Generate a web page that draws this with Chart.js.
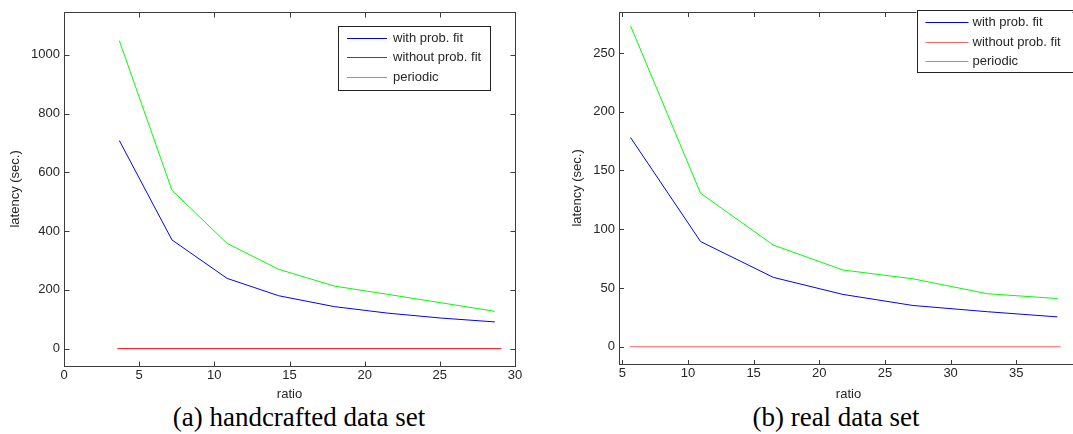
<!DOCTYPE html>
<html>
<head>
<meta charset="utf-8">
<script src="https://cdn.jsdelivr.net/npm/chart.js@4.4.0/dist/chart.umd.min.js"></script>
<style>
  html, body { margin:0; padding:0; background:#fff; width:1073px; height:434px; overflow:hidden; }
  canvas { position:absolute; top:0; }
  #chartA { left:0; }
  #chartB { left:566px; }
  .caption { position:absolute; top:404px; width:300px; text-align:center;
             font-family:"Liberation Serif","Times New Roman",serif; font-size:27px; line-height:27px; color:#000; }
</style>
</head>
<body>
<canvas id="chartA" width="530" height="402"></canvas>
<canvas id="chartB" width="519" height="402"></canvas>
<div class="caption" style="left:149px">(a) handcrafted data set</div>
<div class="caption" style="left:686px">(b) real data set</div>
<script>
/* ========= DATA ========= */
const seriesLabels = ["with prob. fit", "without prob. fit", "periodic"];

// (a) handcrafted data set
const ratioA      = [3.68, 7.18, 10.85, 14.28, 17.98, 21.5, 25.1, 28.66];
const withFitA    = [708, 370, 239, 180, 143, 121, 104, 91];
const periodicA   = [1048, 539, 358, 270, 213, 185, 156, 127];
const ratioNoFitA = [3.55, 29.1];
const withoutFitA = [0, 0];
const xTicksA = [0, 5, 10, 15, 20, 25, 30];
const yTicksA = [0, 200, 400, 600, 800, 1000];

// (b) real data set
const ratioB      = [5.63, 10.96, 16.5, 21.8, 27.13, 32.8, 38.13];
const withFitB    = [178, 89.5, 59, 44.5, 35.1, 29.8, 25.4];
const periodicB   = [273, 130.6, 86.5, 65.3, 57.8, 45.1, 41];
const ratioNoFitB = [5.56, 38.38];
const withoutFitB = [0, 0];
const xTicksB = [5, 10, 15, 20, 25, 30, 35];
const yTicksB = [0, 50, 100, 150, 200, 250];

/* ========= HELPERS ========= */
const FONT = "'Liberation Sans', Arial, sans-serif";
const TXT  = "#262626";
const pts = (xs, ys) => xs.map((x, i) => ({x, y: ys[i]}));

// matlab style box, inward ticks on all 4 sides, legend inside the axes
const matlabBox = {
  id: "matlabBox",
  afterDraw(chart, args, o) {
    const {ctx, chartArea: a, scales: {x, y}} = chart;
    const L = Math.round(a.left) + .5, R = Math.round(a.right) + .5;
    const T = Math.round(a.top) + .5,  B = Math.round(a.bottom) + .5;
    ctx.save();
    ctx.strokeStyle = "#3c3c3c";
    ctx.lineWidth = 1;
    ctx.strokeRect(L, T, R - L, B - T);
    ctx.beginPath();
    x.ticks.forEach(t => {
      const px = Math.round(x.getPixelForValue(t.value)) + .5;
      ctx.moveTo(px, B); ctx.lineTo(px, B - o.tick);
      ctx.moveTo(px, T); ctx.lineTo(px, T + o.tick);
    });
    y.ticks.forEach(t => {
      const py = Math.round(y.getPixelForValue(t.value)) + .5;
      ctx.moveTo(L, py); ctx.lineTo(L + o.tick, py);
      ctx.moveTo(R, py); ctx.lineTo(R - o.tick, py);
    });
    ctx.stroke();

    // legend
    const g = o.legend;
    ctx.fillStyle = "#fff";
    ctx.fillRect(g.x, g.y, g.w, g.h);
    ctx.strokeStyle = "#222";
    ctx.strokeRect(Math.round(g.x) + .5, Math.round(g.y) + .5, Math.round(g.w), Math.round(g.h));
    ctx.font = "13px " + FONT;
    ctx.textBaseline = "middle";
    ctx.textAlign = "left";
    chart.data.datasets.forEach((ds, i) => {
      const ry = Math.round(g.y + g.rows[i]) + .5;
      ctx.strokeStyle = ds.borderColor;
      ctx.beginPath();
      ctx.moveTo(g.x + g.line[0], ry);
      ctx.lineTo(g.x + g.line[1], ry);
      ctx.stroke();
      ctx.fillStyle = TXT;
      ctx.fillText(ds.label, g.x + g.textX, ry);
    });
    ctx.restore();
  }
};

function makeChart(id, cfg) {
  const ds = (label, data, color) => ({
    label, data, borderColor: color, borderWidth: 1,
    pointRadius: 0, tension: 0, fill: false
  });
  return new Chart(document.getElementById(id).getContext("2d"), {
    type: "line",
    data: {
      datasets: [
        ds(seriesLabels[0], pts(cfg.ratio, cfg.withFit), "#0000ff"),
        ds(seriesLabels[1], pts(cfg.ratioNoFit, cfg.withoutFit), cfg.red),
        ds(seriesLabels[2], pts(cfg.ratio, cfg.periodic), "#00ff00")
      ]
    },
    options: {
      responsive: false,
      animation: false,
      layout: {padding: cfg.pad},
      plugins: {
        legend: {display: false},
        tooltip: {enabled: false},
        matlabBox: {tick: cfg.tick, legend: cfg.legend}
      },
      scales: {
        x: {
          type: "linear", min: cfg.xMin, max: cfg.xMax,
          afterBuildTicks: s => { s.ticks = cfg.xTicks.map(v => ({value: v})); },
          afterFit: s => { s.height = cfg.xHeight; },
          grid: {display: false, drawTicks: false},
          border: {display: false},
          ticks: {font: {family: FONT, size: 13}, color: TXT, padding: 2, maxRotation: 0, autoSkip: false,
                  callback: v => String(v)},
          title: {display: true, text: "ratio", color: TXT, font: {family: FONT, size: 13}, padding: {top: 0, bottom: 0}}
        },
        y: {
          type: "linear", min: cfg.yMin, max: cfg.yMax,
          afterBuildTicks: s => { s.ticks = cfg.yTicks.map(v => ({value: v})); },
          afterFit: s => { s.width = cfg.yWidth; },
          grid: {display: false, drawTicks: false},
          border: {display: false},
          ticks: {font: {family: FONT, size: 13}, color: TXT, padding: 4, autoSkip: false,
                  callback: v => String(v)},
          title: {display: true, text: "latency (sec.)", color: TXT, font: {family: FONT, size: 13}, padding: {top: cfg.titlePad, bottom: 0}}
        }
      }
    },
    plugins: [matlabBox]
  });
}

/* ========= CHARTS ========= */
makeChart("chartA", {
  ratio: ratioA, withFit: withFitA, periodic: periodicA,
  ratioNoFit: ratioNoFitA, withoutFit: withoutFitA, red: "#ff0000",
  xMin: 0, xMax: 30, yMin: -59, yMax: 1146,
  xTicks: xTicksA, yTicks: yTicksA,
  pad: {top: 8, right: 15, left: 0, bottom: 0},
  xHeight: 36, yWidth: 64, titlePad: 8, tick: 5,
  legend: {x: 338, y: 26, w: 152, h: 64, rows: [12, 31, 51], line: [9, 49], textX: 55}
});

makeChart("chartB", {
  ratio: ratioB, withFit: withFitB, periodic: periodicB,
  ratioNoFit: ratioNoFitB, withoutFit: withoutFitB, red: "#ff6262",
  xMin: 4.75, xMax: 39.7, yMin: -14.7, yMax: 285,
  xTicks: xTicksB, yTicks: yTicksB,
  pad: {top: 3, right: 7, left: 0, bottom: 0},
  xHeight: 38, yWidth: 53, titlePad: 4, tick: 4.5,
  legend: {x: 350.5, y: 10, w: 156, h: 62, rows: [11.7, 32, 51], line: [9, 52], textX: 56}
});
</script>
</body>
</html>
